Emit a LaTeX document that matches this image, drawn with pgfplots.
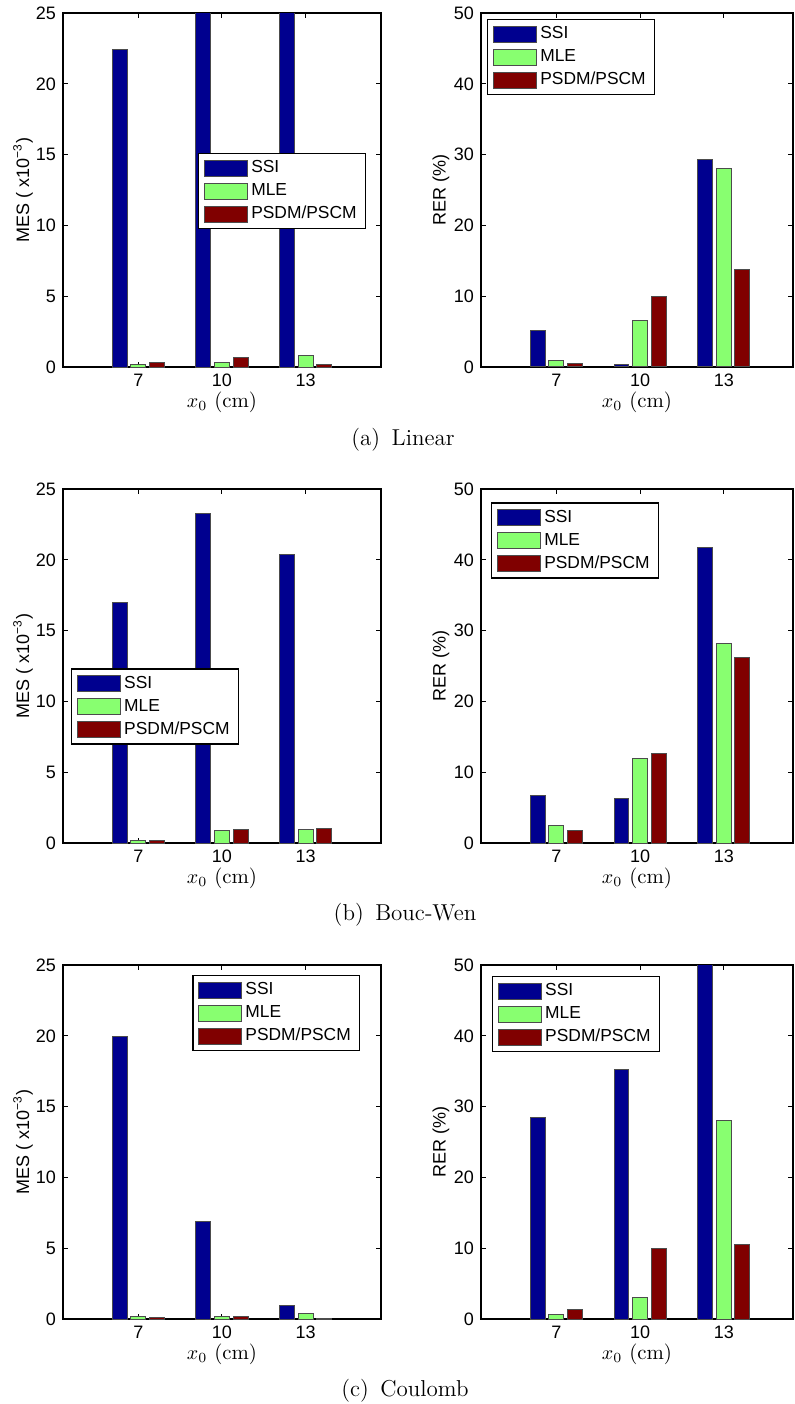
\documentclass[border=0pt]{standalone}
\usepackage{fontspec}
\usepackage{pgfplots}
\pgfplotsset{compat=1.18}
\newfontfamily\arial{Liberation Sans}
\definecolor{ssiC}{RGB}{0,0,143}
\definecolor{mleC}{RGB}{136,255,112}
\definecolor{psdmC}{RGB}{128,0,0}

\pgfplotsset{
  panel/.style={
    scale only axis, height=177pt, ymin=0,
    xmin=0.1, xtick={1,2,3}, xticklabels={7,10,13},
    tick align=inside, major tick length=2.5pt,
    tick style={black, line width=0.5pt},
    axis line style={line width=0.6pt},
    tick label style={font=\arial\fontsize{9}{10}\selectfont},
    /pgf/number format/assume math mode=true,
    xlabel={$x_0$ (cm)},
    xlabel style={font=\fontsize{10.4}{12}\selectfont, at={(axis description cs:0.5,0)}, anchor=base, yshift=-20pt},
    ylabel style={font=\arial\fontsize{9}{10}\selectfont,
      at={([xshift=-20pt]axis description cs:0,0.5)}, anchor=center},
    legend cell align=left,
    legend style={anchor=north west, font=\arial\fontsize{8.7}{10}\selectfont,
      draw=black, line width=0.7pt, inner xsep=2.5pt, inner ysep=1.5pt, row sep=0pt,
      nodes={inner xsep=1.8pt, inner ysep=1.5pt, text height=6.6pt, text depth=1.9pt}},
  },
  bars/.style={ybar, bar width=0.178, draw=black!70, line width=0.5pt,
    legend image code/.code={\draw[##1] (0pt,-4pt) rectangle (21.5pt,4pt);}},
  ssi/.style={bars, bar shift=-0.222, fill=ssiC},
  mle/.style={bars, bar shift=0, fill=mleC},
  psdm/.style={bars, bar shift=0.222, fill=psdmC},
  mes/.style={panel, width=159pt, xmax=3.9, ymax=25, ytick={0,5,...,25},
    ylabel={MES ( x10\textsuperscript{−3})}},
  rer/.style={panel, width=156pt, xmax=3.827, ymax=50, ytick={0,10,...,50},
    ylabel={RER (\%)}},
}

\begin{document}
\begin{tikzpicture}
\useasboundingbox (0,0) rectangle (397pt,-702pt);

% (a) Linear
\begin{axis}[mes, at={(31.5pt,-6.5pt)}, anchor=north west,
  legend style={at={(0.4245,0.6045)}}]
  \addplot[ssi] coordinates {(1,22.4) (2,28) (3,28)};
  \addplot[mle] coordinates {(1,0.19) (2,0.33) (3,0.8)};
  \addplot[psdm] coordinates {(1,0.3) (2,0.68) (3,0.19)};
  \legend{SSI,MLE,PSDM/PSCM}
\end{axis}
\begin{axis}[rer, at={(240.5pt,-6.5pt)}, anchor=north west,
  legend style={at={(0.0192,0.983)}}]
  \addplot[ssi] coordinates {(1,5.2) (2,0.33) (3,29.25)};
  \addplot[mle] coordinates {(1,0.9) (2,6.6) (3,28.0)};
  \addplot[psdm] coordinates {(1,0.47) (2,9.9) (3,13.8)};
  \legend{SSI,MLE,PSDM/PSCM}
\end{axis}
\node[font=\fontsize{11.5}{13}\selectfont, anchor=base] at (201.5pt,-222.5pt) {(a)\hspace{0.5em}Linear};

% (b) Bouc-Wen
\begin{axis}[mes, at={(31.5pt,-244.5pt)}, anchor=north west,
  legend style={at={(0.025,0.493)}}]
  \addplot[ssi] coordinates {(1,17.0) (2,23.28) (3,20.37)};
  \addplot[mle] coordinates {(1,0.21) (2,0.87) (3,0.97)};
  \addplot[psdm] coordinates {(1,0.17) (2,0.97) (3,0.99)};
  \legend{SSI,MLE,PSDM/PSCM}
\end{axis}
\begin{axis}[rer, at={(240.5pt,-244.5pt)}, anchor=north west,
  legend style={at={(0.032,0.963)}}]
  \addplot[ssi] coordinates {(1,6.75) (2,6.23) (3,41.7)};
  \addplot[mle] coordinates {(1,2.5) (2,12.0) (3,28.2)};
  \addplot[psdm] coordinates {(1,1.75) (2,12.6) (3,26.2)};
  \legend{SSI,MLE,PSDM/PSCM}
\end{axis}
\node[font=\fontsize{11.5}{13}\selectfont, anchor=base] at (202.5pt,-460pt) {(b)\hspace{0.5em}Bouc-Wen};

% (c) Coulomb
\begin{axis}[mes, at={(31.5pt,-482.5pt)}, anchor=north west,
  legend style={at={(0.406,0.972)}}]
  \addplot[ssi] coordinates {(1,19.94) (2,6.92) (3,0.97)};
  \addplot[mle] coordinates {(1,0.15) (2,0.15) (3,0.36)};
  \addplot[psdm] coordinates {(1,0.1) (2,0.17) (3,0.03)};
  \legend{SSI,MLE,PSDM/PSCM}
\end{axis}
\begin{axis}[rer, at={(240.5pt,-482.5pt)}, anchor=north west,
  legend style={at={(0.035,0.969)}}]
  \addplot[ssi] coordinates {(1,28.4) (2,35.25) (3,55)};
  \addplot[mle] coordinates {(1,0.6) (2,3.0) (3,28.1)};
  \addplot[psdm] coordinates {(1,1.28) (2,9.97) (3,10.5)};
  \legend{SSI,MLE,PSDM/PSCM}
\end{axis}
\node[font=\fontsize{11.5}{13}\selectfont, anchor=base] at (202.5pt,-698pt) {(c)\hspace{0.5em}Coulomb};
\end{tikzpicture}
\end{document}
